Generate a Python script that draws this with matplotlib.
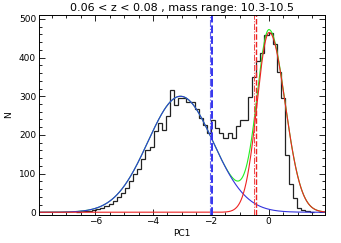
import numpy as np
import matplotlib
matplotlib.use("Agg")
import matplotlib.pyplot as plt
from matplotlib.ticker import MultipleLocator

# histogram of PC1 (bin width ~0.142, first edge at -6.676)
bin_start = -6.676
bin_width = 0.142
counts = [1, 2, 3, 4, 6, 8, 11, 16, 22, 30, 40, 50, 64, 80,
          100, 112, 138, 160, 170, 209, 230, 213, 250, 315, 278, 296,
          296, 285, 285, 268, 245, 226, 205,
          239, 218, 205, 192, 205, 192, 222, 239, 239, 299, 351, 390,
          411, 459, 463, 436, 364, 295, 148, 72, 38, 12, 6, 3, 1]

# fitted components (amplitude, centre, sigma left, sigma right)
blue_fit = (300, -3.05, 1.13, 1.13)
red_fit = (465, 0.02, 0.42, 0.55)

# vertical markers
blue_lines = [-1.97, -2.02]
red_lines = [-0.45, -0.52]

title = "0.06 < z < 0.08 , mass range: 10.3-10.5"


def split_gauss(x, p):
    a, mu, sl, sr = p
    s = np.where(x < mu, sl, sr)
    return a * np.exp(-(x - mu) ** 2 / (2 * s ** 2))


edges = bin_start + bin_width * np.arange(len(counts) + 1)
xx = np.linspace(-8, 2, 800)
yb = split_gauss(xx, blue_fit)
yr = split_gauss(xx, red_fit)

fig = plt.figure(figsize=(3.41, 2.43), dpi=100)
ax = fig.add_axes([0.114, 0.117, 0.839, 0.821])

ax.stairs(counts, edges, baseline=None, color="#222222", lw=0.9)
ax.plot(xx, yb + yr, color="#22ee22", lw=0.8)
ax.plot(xx, yb, color="#3333dd", lw=0.8)
ax.plot(xx, yr, color="#ee2222", lw=0.8)

ax.axvline(blue_lines[0], color="#3333ee", lw=1.4, ls=(0, (4, 1.5)))
ax.axvline(blue_lines[1], color="#6666ee", lw=0.8, ls="-.")
ax.axvline(red_lines[0], color="#ee2222", lw=1.0, ls=(0, (4, 1.5)))
ax.axvline(red_lines[1], color="#ee4444", lw=0.7, ls="-.")

ax.set_xlim(-7.95, 1.95)
ax.set_ylim(-6, 510)
ax.xaxis.set_major_locator(MultipleLocator(2))
ax.xaxis.set_minor_locator(MultipleLocator(0.5))
ax.yaxis.set_major_locator(MultipleLocator(100))
ax.yaxis.set_minor_locator(MultipleLocator(20))
ax.tick_params(which="both", direction="in", top=True, right=True,
               labelsize=6.5, width=0.6, pad=2)
ax.tick_params(which="major", length=4)
ax.tick_params(which="minor", length=2)
for s in ax.spines.values():
    s.set_linewidth(0.7)

ax.set_title(title, fontsize=8, pad=3)
ax.set_xlabel("PC1", fontsize=6.5, labelpad=2)
ax.set_ylabel("N", fontsize=6.5, labelpad=4)

fig.savefig("out.png", dpi=100)
